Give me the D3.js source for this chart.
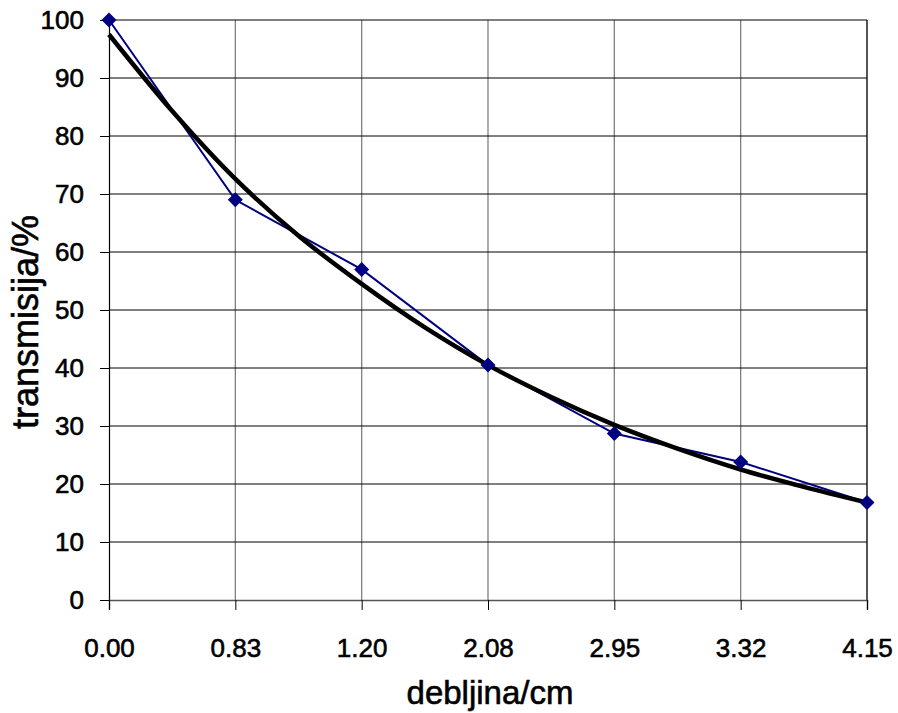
<!DOCTYPE html>
<html><head><meta charset="utf-8">
<script src="https://cdn.jsdelivr.net/npm/d3@7"></script>
<style>body{margin:0;background:#fff}svg{display:block}text{font-family:Arial,"Liberation Sans",sans-serif;stroke:#000;stroke-width:0.6px}</style>
</head><body>
<svg id="c" width="898" height="713"></svg>
<script>
const categories = ["0.00","0.83","1.20","2.08","2.95","3.32","4.15"];
const transmission = [100, 69, 57, 40.5, 28.7, 23.8, 16.8];
// trendline at half-category steps
const trendPos = [0,0.5,1,1.5,2,2.5,3,3.5,4,4.5,5,5.5,6];
const trendVals = [97.5,84.3,72.6,62.8,54.5,47.0,40.5,35.0,30.2,26.1,22.5,19.5,16.8];
const yTicks = [0,10,20,30,40,50,60,70,80,90,100];

const svg = d3.select("#c");
const L=109, R=867, T=20, B=600;
const x = d3.scalePoint().domain(categories).range([L,R]).padding(0);
const xi = d3.scaleLinear().domain([0,categories.length-1]).range([L,R]);
const y = d3.scaleLinear().domain([0,100]).range([B,T]);
const FONT = "Arial,'Liberation Sans',sans-serif";

svg.append("g").selectAll("line").data(categories.slice(1)).join("line")
  .attr("x1",d=>x(d)).attr("x2",d=>x(d)).attr("y1",T).attr("y2",B)
  .attr("stroke","#808080").attr("stroke-width",1.3);
svg.append("g").selectAll("line").data(yTicks.slice(1)).join("line")
  .attr("x1",L).attr("x2",R).attr("y1",d=>y(d)).attr("y2",d=>y(d))
  .attr("stroke","#000").attr("stroke-width",1);
svg.append("line").attr("x1",R).attr("x2",R).attr("y1",T).attr("y2",B).attr("stroke","#000").attr("stroke-width",1);

const ya = svg.append("g").attr("transform",`translate(${L},0)`)
  .call(d3.axisLeft(y).tickValues(yTicks).tickSize(9).tickPadding(16).tickFormat(d3.format("d")));
ya.select(".domain").attr("stroke","#000").attr("stroke-width",1.2);
ya.selectAll("line").attr("stroke","#000");
ya.selectAll("text").style("font-size","26px").attr("fill","#000").style("font-family",FONT);

const xa = svg.append("g").attr("transform",`translate(0,${B})`)
  .call(d3.axisBottom(x).tickSize(10));
xa.select(".domain").attr("stroke","#555").attr("stroke-width",1.5);
xa.selectAll("line").attr("stroke","#000");
xa.selectAll("text").style("font-size","26px").attr("fill","#000").style("font-family",FONT)
  .attr("y",57).attr("dy",0);

svg.append("path").datum(transmission)
  .attr("d",d3.line().x((d,i)=>x(categories[i])).y(d=>y(d)))
  .attr("fill","none").attr("stroke","#000080").attr("stroke-width",2);

svg.append("path").datum(trendVals)
  .attr("d",d3.line().x((d,i)=>xi(trendPos[i])).y(d=>y(d)).curve(d3.curveCatmullRom))
  .attr("fill","none").attr("stroke","#000").attr("stroke-width",4.5);

svg.append("g").selectAll("path").data(transmission).join("path")
  .attr("transform",(d,i)=>`translate(${x(categories[i])},${y(d)})`)
  .attr("d","M0,-7.5L7.5,0L0,7.5L-7.5,0Z").attr("fill","#000080");

svg.append("text").attr("x",490).attr("y",704).attr("text-anchor","middle")
  .style("font-size","33px").text("debljina/cm");
svg.append("text").attr("transform",`translate(38,322) rotate(-90)`).attr("text-anchor","middle")
  .style("font-size","36px").text("transmisija/%");
</script>
</body></html>
